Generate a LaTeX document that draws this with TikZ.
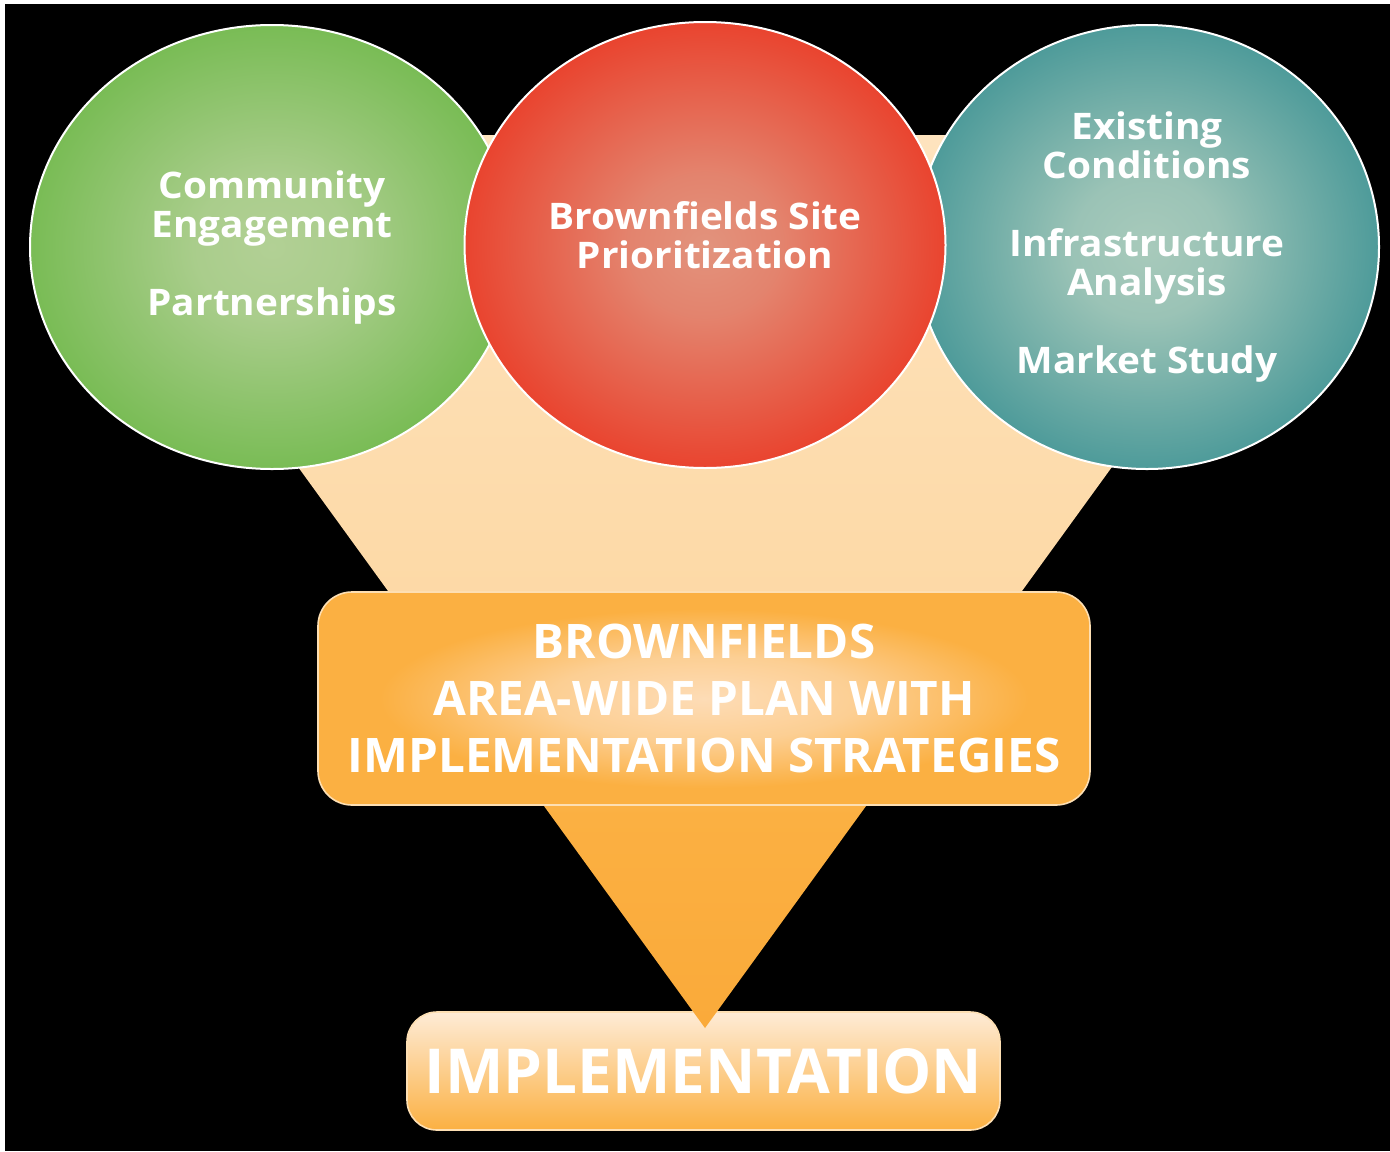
\documentclass[tikz,border=0pt]{standalone}
\usepackage{fontspec}
\setmainfont{Open Sans}
\newfontfamily\orbfont{Open Sans}[FakeStretch=1.06]
\usetikzlibrary{shapes.geometric}

\definecolor{greenEdge}{HTML}{79BC55}
\definecolor{greenCore}{HTML}{B2D095}
\definecolor{redEdge}{HTML}{E9442F}
\definecolor{redCore}{HTML}{E2937D}
\definecolor{tealEdge}{HTML}{4E9B9A}
\definecolor{tealCore}{HTML}{A8CABB}
\definecolor{peach}{HTML}{FDD9A6}
\definecolor{peachTop}{HTML}{FEE3BE}
\definecolor{amber}{HTML}{FBB042}
\definecolor{amberDeep}{HTML}{FAAA3A}
\definecolor{glow}{HTML}{FDDCB6}
\definecolor{pale}{HTML}{FEEBD6}

\pgfdeclareradialshading{green-orb}{\pgfpoint{0bp}{0bp}}{color(0bp)=(greenCore); color(8bp)=(greenCore!85!greenEdge); color(25bp)=(greenEdge); color(50bp)=(greenEdge)}
\pgfdeclareradialshading{red-orb}{\pgfpoint{0bp}{0bp}}{color(0bp)=(redCore); color(8bp)=(redCore!80!redEdge); color(25bp)=(redEdge); color(50bp)=(redEdge)}
\pgfdeclareradialshading{teal-orb}{\pgfpoint{0bp}{0bp}}{color(0bp)=(tealCore); color(8bp)=(tealCore!85!tealEdge); color(25bp)=(tealEdge); color(50bp)=(tealEdge)}
\pgfdeclareradialshading{plan-glow}{\pgfpoint{0bp}{0bp}}{color(0bp)=(glow); color(10bp)=(glow!70!amber); color(21bp)=(amber); color(50bp)=(amber)}
\pgfdeclareverticalshading{funnel}{100bp}{color(0bp)=(amberDeep); color(25bp)=(amberDeep); color(37bp)=(amber); color(49bp)=(peach); color(75bp)=(peachTop); color(100bp)=(peachTop)}

\tikzset{
    orb/.style = {ellipse, draw=white, line width=1pt, inner sep=0pt, text=white, align=center, font=\orbfont\bfseries\fontsize{18.3}{19.5}\selectfont},
    plan-box/.style = {rectangle, rounded corners=17pt, draw=white!60!amber, line width=0.8pt, shade, shading=plan-glow, minimum width=386pt, minimum height=106.5pt, text=white, align=center, font=\bfseries\fontsize{23.8}{28.5}\selectfont},
    action-box/.style = {rectangle, rounded corners=15pt, draw=white!60!amber, line width=0.8pt, top color=pale, middle color=amber!55!pale, bottom color=amber, minimum width=296.5pt, minimum height=59pt, text=white, font=\bfseries\fontsize{31}{31}\selectfont},
}

\begin{document}
\begin{tikzpicture}[x=0.5pt, y=-0.5pt]
\fill[white] (0,0) rectangle (1390,1151);
\fill[black] (5,4) rectangle (1390,1151);
\useasboundingbox (0,0) rectangle (1390,1151);

% bottom box sits under the funnel tip
\node [action-box] (implementation) at (703.5,1071) {IMPLEMENTATION};

\coordinate (tip) at (705,1028);
\coordinate (funnel-left) at (264,420);
\coordinate (funnel-right) at (1146,420);
\shade[shading=funnel] (tip) -- (funnel-left) -- (264,135) -- (1146,135) -- (funnel-right) -- cycle;

\node [plan-box] (plan) at (704,698.5) {BROWNFIELDS\\AREA-WIDE PLAN WITH\\IMPLEMENTATION STRATEGIES};

% the three inputs
\node [orb, shade, shading=green-orb, minimum width=242pt, minimum height=222pt] (community) at (272,247)
    {Community\\Engagement\\[19.5pt]Partnerships};
\node [orb, shade, shading=teal-orb, minimum width=232pt, minimum height=222pt] (analysis) at (1147,247)
    {Existing\\Conditions\\[19.5pt]Infrastructure\\Analysis\\[19.5pt]Market Study};
\node [orb, shade, shading=red-orb, minimum width=240.5pt, minimum height=223pt, text depth=10pt] (sites) at (705,245)
    {Brownfields Site\\Prioritization};
\end{tikzpicture}
\end{document}
